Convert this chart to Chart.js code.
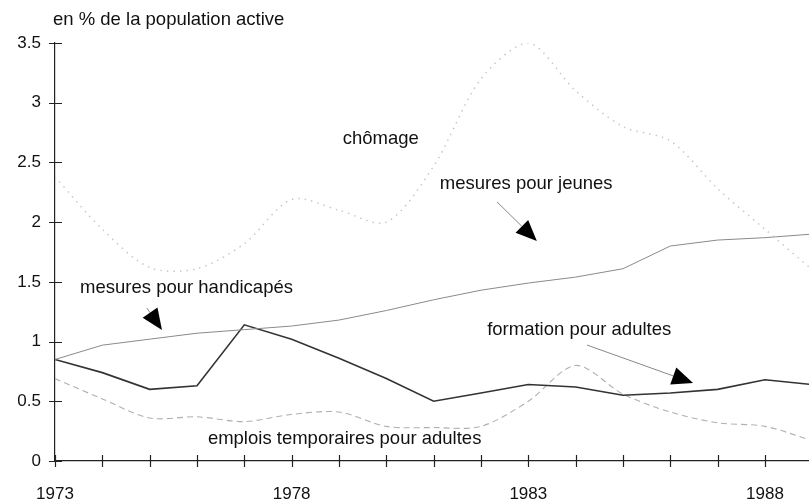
<!DOCTYPE html>
<html>
<head>
<meta charset="utf-8">
<script src="https://cdn.jsdelivr.net/npm/chart.js@4"></script>
<style>
  html, body { margin: 0; padding: 0; background: #fff; }
  #wrap { width: 809px; height: 501px; }
</style>
</head>
<body>
<div id="wrap"><canvas id="chart" width="809" height="501"></canvas></div>
<script>
// ======================================
// DATA
// ======================================
const years = [1973, 1974, 1975, 1976, 1977, 1978, 1979, 1980, 1981, 1982, 1983, 1984, 1985, 1986, 1987, 1988, 1989];
const chomage    = [2.38, 1.94, 1.62, 1.61, 1.82, 2.19, 2.10, 2.00, 2.47, 3.20, 3.50, 3.10, 2.80, 2.68, 2.28, 1.94, 1.60];
const handicapes = [0.85, 0.97, 1.02, 1.07, 1.10, 1.13, 1.18, 1.26, 1.35, 1.43, 1.49, 1.54, 1.61, 1.80, 1.85, 1.87, 1.90];
const formation  = [0.85, 0.74, 0.60, 0.63, 1.14, 1.02, 0.86, 0.69, 0.50, 0.57, 0.64, 0.62, 0.55, 0.57, 0.60, 0.68, 0.64];
const emplois    = [0.69, 0.52, 0.36, 0.37, 0.33, 0.39, 0.41, 0.29, 0.28, 0.29, 0.50, 0.80, 0.56, 0.41, 0.32, 0.29, 0.17];

const xTickLabels = [1973, 1978, 1983, 1988];
const yTicks = [0, 0.5, 1, 1.5, 2, 2.5, 3, 3.5];
const yTitle = "en % de la population active";

// annotations in data coordinates (year, value)
const labels = [
    { text: "chômage", x: 1979.08, y: 2.654 },
    { text: "mesures pour jeunes", x: 1981.13, y: 2.277 },
    { text: "mesures pour handicapés", x: 1973.53, y: 1.407 },
    { text: "formation pour adultes", x: 1982.13, y: 1.055 },
    { text: "emplois temporaires pour adultes", x: 1976.23, y: 0.142 }
];
const arrows = [
    { from: [1982.34, 2.169], to: [1983.18, 1.842] },
    { from: [1974.94, 1.281], to: [1975.26, 1.097] },
    { from: [1984.24, 0.971], to: [1986.48, 0.653] }
];

const FONT = '"Liberation Sans", Arial, sans-serif';
const pts = (arr) => years.map((y, i) => ({ x: y, y: arr[i] }));

// ======================================
// PLUGINS
// ======================================
const crossTicks = {
    id: "crossTicks",
    afterDraw(chart) {
        const { ctx, scales: { x, y }, chartArea } = chart;
        ctx.save();
        ctx.strokeStyle = "#222";
        ctx.lineWidth = 1.2;
        ctx.beginPath();
        for (let v = 1973; v <= 1988; v++) {
            const px = Math.round(x.getPixelForValue(v)) + 0.5;
            ctx.moveTo(px, chartArea.bottom - 6);
            ctx.lineTo(px, chartArea.bottom + 6);
        }
        yTicks.forEach(v => {
            const py = Math.round(y.getPixelForValue(v)) + 0.5;
            ctx.moveTo(chartArea.left - 6, py);
            ctx.lineTo(chartArea.left + 7, py);
        });
        ctx.stroke();
        ctx.restore();
    }
};

const notes = {
    id: "notes",
    afterDatasetsDraw(chart) {
        const { ctx, scales: { x, y }, chartArea } = chart;
        ctx.save();
        ctx.fillStyle = "#111";
        ctx.font = "18.5px " + FONT;
        ctx.textBaseline = "alphabetic";
        ctx.textAlign = "left";
        ctx.fillText(yTitle, chartArea.left - 2, 25);
        labels.forEach(l => ctx.fillText(l.text, x.getPixelForValue(l.x), y.getPixelForValue(l.y)));

        arrows.forEach(a => {
            const x0 = x.getPixelForValue(a.from[0]), y0 = y.getPixelForValue(a.from[1]);
            const x1 = x.getPixelForValue(a.to[0]), y1 = y.getPixelForValue(a.to[1]);
            const ang = Math.atan2(y1 - y0, x1 - x0);
            const len = 21, half = 9;
            const bx = x1 - len * Math.cos(ang), by = y1 - len * Math.sin(ang);
            ctx.strokeStyle = "#888";
            ctx.lineWidth = 1;
            ctx.beginPath();
            ctx.moveTo(x0, y0);
            ctx.lineTo(bx, by);
            ctx.stroke();
            ctx.fillStyle = "#000";
            ctx.beginPath();
            ctx.moveTo(x1, y1);
            ctx.lineTo(bx + half * Math.sin(ang), by - half * Math.cos(ang));
            ctx.lineTo(bx - half * Math.sin(ang), by + half * Math.cos(ang));
            ctx.closePath();
            ctx.fill();
        });
        ctx.restore();
    }
};

// ======================================
// CHART INIT
// ======================================
new Chart(document.getElementById("chart"), {
    type: "line",
    data: {
        datasets: [
            {
                label: "chômage",
                data: pts(chomage),
                borderColor: "#c8c8c8",
                borderWidth: 1.5,
                borderDash: [1.5, 5],
                tension: 0.3,
                pointRadius: 0
            },
            {
                label: "mesures pour handicapés",
                data: pts(handicapes),
                borderColor: "#8a8a8a",
                borderWidth: 1,
                tension: 0,
                pointRadius: 0
            },
            {
                label: "formation pour adultes",
                data: pts(formation),
                borderColor: "#333",
                borderWidth: 1.6,
                tension: 0,
                pointRadius: 0
            },
            {
                label: "emplois temporaires pour adultes",
                data: pts(emplois),
                borderColor: "#b0b0b0",
                borderWidth: 1.1,
                borderDash: [6, 4],
                tension: 0.3,
                pointRadius: 0
            }
        ]
    },
    options: {
        responsive: false,
        animation: false,
        events: [],
        layout: { padding: { top: 43, right: 0, left: 0, bottom: 0 } },
        plugins: { legend: { display: false }, tooltip: { enabled: false } },
        scales: {
            x: {
                type: "linear",
                min: 1973,
                max: 1988.93,
                grid: { display: false, drawTicks: false },
                border: { display: true, color: "#222", width: 1.2 },
                afterFit: (s) => { s.height = 40; },
                ticks: {
                    stepSize: 1,
                    includeBounds: false,
                    autoSkip: false,
                    maxRotation: 0,
                    padding: 23,
                    color: "#111",
                    font: { family: FONT, size: 17 },
                    callback: (v) => xTickLabels.includes(v) ? String(v) : ""
                }
            },
            y: {
                min: 0,
                max: 3.5,
                grid: { display: false, drawTicks: false },
                border: { display: true, color: "#222", width: 1.2 },
                afterFit: (s) => { s.width = 55; },
                ticks: {
                    stepSize: 0.5,
                    padding: 14,
                    color: "#111",
                    font: { family: FONT, size: 17 },
                    callback: (v) => String(v)
                }
            }
        }
    },
    plugins: [crossTicks, notes]
});
</script>
</body>
</html>
